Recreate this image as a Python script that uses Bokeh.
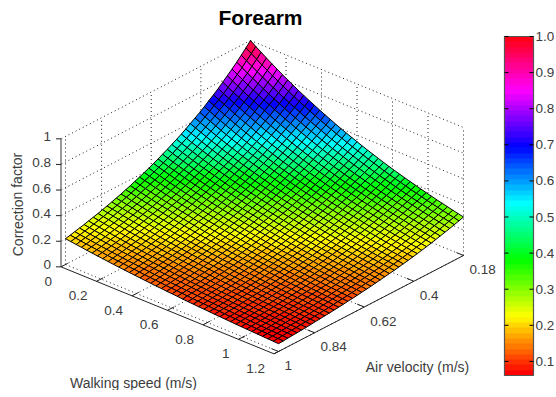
import colorsys
from bokeh.core.properties import value
from bokeh.embed import file_html
from bokeh.models import ColorBar, FixedTicker, LinearColorMapper, Range1d
from bokeh.plotting import figure
from bokeh.resources import INLINE

TITLE = "Forearm"
Z_LABEL = "Correction factor"
WALK_LABEL = "Walking speed (m/s)"
AIR_LABEL = "Air velocity (m/s)"

walk_ticks = [0, 0.2, 0.4, 0.6, 0.8, 1, 1.2]
air_ticks = [0.18, 0.4, 0.62, 0.84, 1]
z_ticks = [0, 0.2, 0.4, 0.6, 0.8, 1]
bar_ticks = [0.1, 0.2, 0.3, 0.4, 0.5, 0.6, 0.7, 0.8, 0.9, 1.0]

walk_speed = [0, .03, .06, .09, .12, .15, .18, .21, .24, .27, .3, .33, .36, .39, .42, .45, .48, .51, .54, .57, .6,
              .63, .66, .69, .72, .75, .78, .81, .84, .87, .9, .93, .96, .99, 1.02, 1.05, 1.08, 1.11, 1.14, 1.17, 1.2]
air_velocity = [.18, .2, .221, .241, .262, .283, .303, .323, .344, .365, .385, .405, .426, .447, .467, .487, .508, .529, .549, .57, .59,
                .61, .631, .651, .672, .693, .713, .733, .754, .775, .795, .816, .836, .856, .877, .898, .918, .938, .959, .979, 1]

# Estimated heights: the edges were read from the silhouette, the interior was
# estimated so that it agrees with the colour bands of the picture.
# One row per air velocity, one column per walking speed.
correction_factor = [
[1.000,.970,.942,.914,.887,.861,.835,.811,.787,.763,.741,.719,.698,.677,.657,.638,.619,.600,.583,.566,.549,.533,.517,.502,.487,.472,.458,.445,.432,.419,.407,.395,.383,.372,.361,.350,.340,.330,.320,.310,.301],
[.961,.932,.905,.878,.852,.827,.803,.779,.756,.733,.712,.691,.670,.651,.631,.613,.595,.577,.560,.543,.527,.512,.497,.482,.468,.454,.440,.427,.415,.403,.391,.379,.368,.357,.346,.336,.326,.317,.307,.298,.289],
[.923,.896,.869,.844,.819,.795,.771,.748,.726,.705,.684,.664,.644,.625,.607,.589,.571,.554,.538,.522,.507,.492,.477,.463,.449,.436,.423,.411,.399,.387,.375,.364,.353,.343,.333,.323,.313,.304,.295,.287,.278],
[.887,.861,.835,.811,.787,.763,.741,.719,.698,.677,.657,.638,.619,.600,.583,.566,.549,.533,.517,.502,.487,.472,.458,.445,.432,.419,.407,.395,.383,.372,.361,.350,.340,.330,.320,.310,.301,.292,.284,.275,.267],
[.852,.827,.803,.779,.756,.733,.712,.691,.670,.651,.631,.613,.595,.577,.560,.543,.527,.512,.497,.482,.468,.454,.440,.427,.415,.403,.391,.379,.368,.357,.346,.336,.326,.317,.307,.298,.289,.281,.273,.264,.257],
[.819,.795,.771,.748,.726,.705,.684,.664,.644,.625,.607,.589,.571,.554,.538,.522,.507,.492,.477,.463,.449,.436,.423,.411,.399,.387,.375,.364,.353,.343,.333,.323,.313,.304,.295,.287,.278,.270,.262,.254,.247],
[.787,.763,.741,.719,.698,.677,.657,.638,.619,.600,.583,.566,.549,.533,.517,.502,.487,.472,.458,.445,.432,.419,.407,.395,.383,.372,.361,.350,.340,.330,.320,.310,.301,.292,.284,.275,.267,.259,.252,.244,.237],
[.756,.733,.712,.691,.670,.651,.631,.613,.595,.577,.560,.543,.527,.512,.497,.482,.468,.454,.440,.427,.415,.403,.391,.379,.368,.357,.346,.336,.326,.317,.307,.298,.289,.281,.273,.264,.257,.249,.242,.235,.228],
[.726,.705,.684,.664,.644,.625,.607,.589,.571,.554,.538,.522,.507,.492,.477,.463,.449,.436,.423,.411,.399,.387,.375,.364,.353,.343,.333,.323,.313,.304,.295,.287,.278,.270,.262,.254,.247,.239,.232,.225,.219],
[.698,.677,.657,.638,.619,.600,.583,.566,.549,.533,.517,.502,.487,.472,.458,.445,.432,.419,.407,.395,.383,.372,.361,.350,.340,.330,.320,.310,.301,.292,.284,.275,.267,.259,.252,.244,.237,.230,.223,.217,.210],
[.670,.651,.631,.613,.595,.577,.560,.543,.527,.512,.497,.482,.468,.454,.440,.427,.415,.403,.391,.379,.368,.357,.346,.336,.326,.317,.307,.298,.289,.281,.273,.264,.257,.249,.242,.235,.228,.221,.214,.208,.202],
[.644,.625,.607,.589,.571,.554,.538,.522,.507,.492,.477,.463,.449,.436,.423,.411,.399,.387,.375,.364,.353,.343,.333,.323,.313,.304,.295,.287,.278,.270,.262,.254,.247,.239,.232,.225,.219,.212,.206,.200,.194],
[.619,.600,.583,.566,.549,.533,.517,.502,.487,.472,.458,.445,.432,.419,.407,.395,.383,.372,.361,.350,.340,.330,.320,.310,.301,.292,.284,.275,.267,.259,.252,.244,.237,.230,.223,.217,.210,.204,.198,.192,.186],
[.595,.577,.560,.543,.527,.512,.497,.482,.468,.454,.440,.427,.415,.403,.391,.379,.368,.357,.346,.336,.326,.317,.307,.298,.289,.281,.273,.264,.257,.249,.242,.235,.228,.221,.214,.208,.202,.196,.190,.185,.179],
[.571,.554,.538,.522,.507,.492,.477,.463,.449,.436,.423,.411,.399,.387,.375,.364,.353,.343,.333,.323,.313,.304,.295,.287,.278,.270,.262,.254,.247,.239,.232,.225,.219,.212,.206,.200,.194,.188,.183,.177,.172],
[.549,.533,.517,.502,.487,.472,.458,.445,.432,.419,.407,.395,.383,.372,.361,.350,.340,.330,.320,.310,.301,.292,.284,.275,.267,.259,.252,.244,.237,.230,.223,.217,.210,.204,.198,.192,.186,.181,.176,.170,.165],
[.527,.512,.497,.482,.468,.454,.440,.427,.415,.403,.391,.379,.368,.357,.346,.336,.326,.317,.307,.298,.289,.281,.273,.264,.257,.249,.242,.235,.228,.221,.214,.208,.202,.196,.190,.185,.179,.174,.169,.164,.159],
[.507,.492,.477,.463,.449,.436,.423,.411,.399,.387,.375,.364,.353,.343,.333,.323,.313,.304,.295,.287,.278,.270,.262,.254,.247,.239,.232,.225,.219,.212,.206,.200,.194,.188,.183,.177,.172,.167,.162,.157,.153],
[.487,.472,.458,.445,.432,.419,.407,.395,.383,.372,.361,.350,.340,.330,.320,.310,.301,.292,.284,.275,.267,.259,.252,.244,.237,.230,.223,.217,.210,.204,.198,.192,.186,.181,.176,.170,.165,.160,.156,.151,.147],
[.468,.454,.440,.427,.415,.403,.391,.379,.368,.357,.346,.336,.326,.317,.307,.298,.289,.281,.273,.264,.257,.249,.242,.235,.228,.221,.214,.208,.202,.196,.190,.185,.179,.174,.169,.164,.159,.154,.150,.145,.141],
[.449,.436,.423,.411,.399,.387,.375,.364,.353,.343,.333,.323,.313,.304,.295,.287,.278,.270,.262,.254,.247,.239,.232,.225,.219,.212,.206,.200,.194,.188,.183,.177,.172,.167,.162,.157,.153,.148,.144,.139,.135],
[.432,.419,.407,.395,.383,.372,.361,.350,.340,.330,.320,.310,.301,.292,.284,.275,.267,.259,.252,.244,.237,.230,.223,.217,.210,.204,.198,.192,.186,.181,.176,.170,.165,.160,.156,.151,.147,.142,.138,.134,.130],
[.415,.403,.391,.379,.368,.357,.346,.336,.326,.317,.307,.298,.289,.281,.273,.264,.257,.249,.242,.235,.228,.221,.214,.208,.202,.196,.190,.185,.179,.174,.169,.164,.159,.154,.150,.145,.141,.137,.133,.129,.125],
[.399,.387,.375,.364,.353,.343,.333,.323,.313,.304,.295,.287,.278,.270,.262,.254,.247,.239,.232,.225,.219,.212,.206,.200,.194,.188,.183,.177,.172,.167,.162,.157,.153,.148,.144,.139,.135,.131,.127,.124,.120],
[.383,.372,.361,.350,.340,.330,.320,.310,.301,.292,.284,.275,.267,.259,.252,.244,.237,.230,.223,.217,.210,.204,.198,.192,.186,.181,.176,.170,.165,.160,.156,.151,.147,.142,.138,.134,.130,.126,.122,.119,.115],
[.368,.357,.346,.336,.326,.317,.307,.298,.289,.281,.273,.264,.257,.249,.242,.235,.228,.221,.214,.208,.202,.196,.190,.185,.179,.174,.169,.164,.159,.154,.150,.145,.141,.137,.133,.129,.125,.121,.118,.114,.111],
[.353,.343,.333,.323,.313,.304,.295,.287,.278,.270,.262,.254,.247,.239,.232,.225,.219,.212,.206,.200,.194,.188,.183,.177,.172,.167,.162,.157,.153,.148,.144,.139,.135,.131,.127,.124,.120,.116,.113,.110,.106],
[.340,.330,.320,.310,.301,.292,.284,.275,.267,.259,.252,.244,.237,.230,.223,.217,.210,.204,.198,.192,.186,.181,.176,.170,.165,.160,.156,.151,.147,.142,.138,.134,.130,.126,.122,.119,.115,.112,.109,.105,.102],
[.326,.317,.307,.298,.289,.281,.273,.264,.257,.249,.242,.235,.228,.221,.214,.208,.202,.196,.190,.185,.179,.174,.169,.164,.159,.154,.150,.145,.141,.137,.133,.129,.125,.121,.118,.114,.111,.108,.104,.101,.098],
[.313,.304,.295,.287,.278,.270,.262,.254,.247,.239,.232,.225,.219,.212,.206,.200,.194,.188,.183,.177,.172,.167,.162,.157,.153,.148,.144,.139,.135,.131,.127,.124,.120,.116,.113,.110,.106,.103,.100,.097,.094],
[.301,.292,.284,.275,.267,.259,.252,.244,.237,.230,.223,.217,.210,.204,.198,.192,.186,.181,.176,.170,.165,.160,.156,.151,.147,.142,.138,.134,.130,.126,.122,.119,.115,.112,.109,.105,.102,.099,.096,.093,.091],
[.289,.281,.273,.264,.257,.249,.242,.235,.228,.221,.214,.208,.202,.196,.190,.185,.179,.174,.169,.164,.159,.154,.150,.145,.141,.137,.133,.129,.125,.121,.118,.114,.111,.108,.104,.101,.098,.095,.093,.090,.087],
[.278,.270,.262,.254,.247,.239,.232,.225,.219,.212,.206,.200,.194,.188,.183,.177,.172,.167,.162,.157,.153,.148,.144,.139,.135,.131,.127,.124,.120,.116,.113,.110,.106,.103,.100,.097,.094,.092,.089,.086,.084],
[.267,.259,.252,.244,.237,.230,.223,.217,.210,.204,.198,.192,.186,.181,.176,.170,.165,.160,.156,.151,.147,.142,.138,.134,.130,.126,.122,.119,.115,.112,.109,.105,.102,.099,.096,.093,.091,.088,.085,.083,.080],
[.257,.249,.242,.235,.228,.221,.214,.208,.202,.196,.190,.185,.179,.174,.169,.164,.159,.154,.150,.145,.141,.137,.133,.129,.125,.121,.118,.114,.111,.108,.104,.101,.098,.095,.093,.090,.087,.085,.082,.080,.077],
[.247,.239,.232,.225,.219,.212,.206,.200,.194,.188,.183,.177,.172,.167,.162,.157,.153,.148,.144,.139,.135,.131,.127,.124,.120,.116,.113,.110,.106,.103,.100,.097,.094,.092,.089,.086,.084,.081,.079,.077,.074],
[.237,.230,.223,.217,.210,.204,.198,.192,.186,.181,.176,.170,.165,.160,.156,.151,.147,.142,.138,.134,.130,.126,.122,.119,.115,.112,.109,.105,.102,.099,.096,.093,.091,.088,.085,.083,.080,.078,.076,.074,.071],
[.228,.221,.214,.208,.202,.196,.190,.185,.179,.174,.169,.164,.159,.154,.150,.145,.141,.137,.133,.129,.125,.121,.118,.114,.111,.108,.104,.101,.098,.095,.093,.090,.087,.085,.082,.080,.077,.075,.073,.071,.069],
[.219,.212,.206,.200,.194,.188,.183,.177,.172,.167,.162,.157,.153,.148,.144,.139,.135,.131,.127,.124,.120,.116,.113,.110,.106,.103,.100,.097,.094,.092,.089,.086,.084,.081,.079,.077,.074,.072,.070,.068,.066],
[.210,.204,.198,.192,.186,.181,.176,.170,.165,.160,.156,.151,.147,.142,.138,.134,.130,.126,.122,.119,.115,.112,.109,.105,.102,.099,.096,.093,.091,.088,.085,.083,.080,.078,.076,.074,.071,.069,.067,.065,.063],
[.202,.196,.190,.185,.179,.174,.169,.164,.159,.154,.150,.145,.141,.137,.133,.129,.125,.121,.118,.114,.111,.108,.104,.101,.098,.095,.093,.090,.087,.085,.082,.080,.077,.075,.073,.071,.069,.067,.065,.063,.061],
]

# view of the 3-D box: back corner, and how far each data axis moves on the page
BACK_X, BACK_Y = 250, 168
WALK_DX, WALK_DY = 213 / 1.2, 87 / 1.2
AIR_DX, AIR_DY = -185 / 0.82, 96 / 0.82
Z_DY = 128
AIR_END = 1.02
INK = "#3c3c3c"
FONT = value("Liberation Sans")
BAR_LEFT, BAR_RIGHT, BAR_TOP, BAR_BOTTOM = 504, 533, 36, 375


def px(w, a):
    return BACK_X + WALK_DX * w + AIR_DX * (a - 0.18)


def py(w, a, z):
    return BACK_Y + WALK_DY * w + AIR_DY * (a - 0.18) - Z_DY * z


hsv64 = []
for i in range(64):
    r, g, b = colorsys.hsv_to_rgb(i / 64, 1, 1)
    hsv64.append("#%02x%02x%02x" % (round(r * 255), round(g * 255), round(b * 255)))

z_low = min(min(r) for r in correction_factor)
z_high = max(max(r) for r in correction_factor)
z_span = z_high - z_low

p = figure(width=554, height=390, output_backend="svg", toolbar_location=None,
           x_range=Range1d(0, 554), y_range=Range1d(390, 0),
           x_axis_type=None, y_axis_type=None, min_border=0, outline_line_color=None)
p.grid.visible = False


def seg(x0, y0, x1, y1, **kw):
    p.line([x0, x1], [y0, y1], **kw)


dot = dict(line_color="#222222", line_width=1, line_dash="1 3")
# walls and floor grid
for z in z_ticks:
    seg(px(0, 0.18), py(0, 0.18, z), px(0, AIR_END), py(0, AIR_END, z), **dot)
    seg(px(0, 0.18), py(0, 0.18, z), px(1.2, 0.18), py(1.2, 0.18, z), **dot)
for a in air_ticks[1:]:
    seg(px(0, a), py(0, a, 0), px(0, a), py(0, a, 1), **dot)
    seg(px(0, a), py(0, a, 0), px(1.2, a), py(1.2, a, 0), **dot)
for w in walk_ticks[1:]:
    seg(px(w, 0.18), py(w, 0.18, 0), px(w, 0.18), py(w, 0.18, 1), **dot)
    seg(px(w, 0.18), py(w, 0.18, 0), px(w, AIR_END), py(w, AIR_END, 0), **dot)
seg(px(0, 0.18), py(0, 0.18, 0), px(0, 0.18), py(0, 0.18, 1), **dot)

# solid axes with ticks
axis_style = dict(line_color="#222222", line_width=1)
seg(px(0, AIR_END), py(0, AIR_END, 0), px(1.2, AIR_END), py(1.2, AIR_END, 0), **axis_style)
seg(px(1.2, AIR_END), py(1.2, AIR_END, 0), px(1.2, 0.18), py(1.2, 0.18, 0), **axis_style)
seg(px(0, AIR_END), py(0, AIR_END, 0), px(0, AIR_END), py(0, AIR_END, 1), line_color="#555555", line_width=1.2)
for z in z_ticks:
    x0, y0 = px(0, AIR_END), py(0, AIR_END, z)
    seg(x0 - 5, y0, x0, y0, **axis_style)
for w in walk_ticks:
    seg(px(w, AIR_END), py(w, AIR_END, 0), px(w, AIR_END - 0.03), py(w, AIR_END - 0.03, 0), **axis_style)
for a in air_ticks:
    seg(px(1.2, a), py(1.2, a, 0), px(1.16, a), py(1.16, a, 0), **axis_style)

# surface, painted from the back corner to the front
cells = []
for i in range(len(air_velocity) - 1):
    for j in range(len(walk_speed) - 1):
        cells.append((i + j, i, j))
cells.sort()
xs, ys, fills = [], [], []
for _, i, j in cells:
    corners = [(i, j), (i, j + 1), (i + 1, j + 1), (i + 1, j)]
    xs.append([px(walk_speed[c], air_velocity[r]) for r, c in corners])
    ys.append([py(walk_speed[c], air_velocity[r], correction_factor[r][c]) for r, c in corners])
    mean = sum(correction_factor[r][c] for r, c in corners) / 4
    fills.append(hsv64[min(63, int((mean - z_low) / z_span * 64))])
p.patches(xs, ys, fill_color=fills, line_color="#000000", line_width=1)

# texts
label = dict(text_font=FONT, text_font_size="13.5px", text_color=INK)
for z in z_ticks:
    p.text([px(0, AIR_END) - 10], [py(0, AIR_END, z) - 2], text=[f"{z:g}"], text_align="right",
           text_baseline="middle", **label)
for w in walk_ticks:
    p.text([px(w, AIR_END) - 9], [py(w, AIR_END, 0) + 14.5], text=[f"{w:g}"], text_align="right",
           text_baseline="middle", **label)
for a in air_ticks:
    p.text([px(1.2, a) + 6], [py(1.2, a, 0) + 14], text=[f"{a:g}"], text_align="left",
           text_baseline="middle", **label)
p.text([260], [17], text=[TITLE], text_align="center", text_baseline="middle", text_font=FONT,
       text_font_size="21px", text_font_style="bold", text_color="black")
p.text([17], [204], text=[Z_LABEL], angle=[1.5708], text_align="center", text_baseline="middle",
       text_font=FONT, text_font_size="14px", text_color=INK)
p.text([133], [382], text=[WALK_LABEL], text_align="center", text_baseline="middle",
       text_font=FONT, text_font_size="14px", text_color=INK)
p.text([417], [366], text=[AIR_LABEL], text_align="center", text_baseline="middle",
       text_font=FONT, text_font_size="14px", text_color=INK)

mapper = LinearColorMapper(palette=hsv64, low=z_low, high=z_high)
bar = ColorBar(color_mapper=mapper, location=(BAR_LEFT, 390 - BAR_BOTTOM), width=BAR_RIGHT - BAR_LEFT,
               height=BAR_BOTTOM - BAR_TOP, padding=0,
               ticker=FixedTicker(ticks=bar_ticks), major_label_overrides={t: f"{t:.1f}" for t in bar_ticks},
               major_label_text_font="Liberation Sans", major_label_text_font_size="13.5px",
               major_label_text_color=INK, label_standoff=2,
               major_tick_line_color=None, minor_tick_line_color=None,
               bar_line_color="#555555", bar_line_width=1.2, background_fill_color=None,
               border_line_color=None)
p.add_layout(bar)
bar_y = [BAR_BOTTOM - (t - z_low) / z_span * (BAR_BOTTOM - BAR_TOP) for t in bar_ticks]
p.segment([BAR_LEFT] * len(bar_y), bar_y, [BAR_LEFT + 4] * len(bar_y), bar_y, line_color="black", level="overlay")
p.segment([BAR_RIGHT - 4] * len(bar_y), bar_y, [BAR_RIGHT] * len(bar_y), bar_y, line_color="black", level="overlay")

open("out.html", "w").write(file_html(p, INLINE))
